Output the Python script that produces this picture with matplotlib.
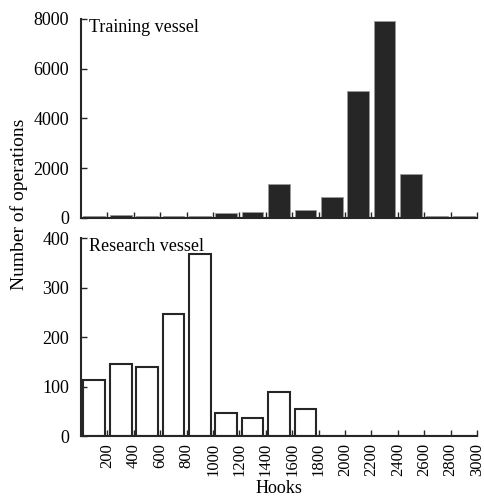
import numpy as np
import matplotlib
matplotlib.use("Agg")
import matplotlib.pyplot as plt

plt.rcParams['font.family'] = ['Liberation Serif', 'DejaVu Serif']
plt.rcParams['font.size'] = 13

# Hook-count bins (lower edges) and number of operations per bin
bin_left = [0, 200, 400, 600, 800, 1000, 1200, 1400, 1600, 1800,
            2000, 2200, 2400, 2600, 2800]
bin_width = 200
training_ops = [70, 120, 90, 70, 70, 190, 230, 1350, 320, 860,
                5090, 7930, 1780, 70, 60]
research_ops = [113, 145, 139, 246, 367, 47, 36, 89, 55, 0,
                0, 0, 0, 0, 0]
x_ticks = [200, 400, 600, 800, 1000, 1200, 1400, 1600, 1800, 2000,
           2200, 2400, 2600, 2800, 3000]

fig = plt.figure(figsize=(4.84, 4.97), dpi=100)
ax1 = fig.add_axes([0.1674, 0.5614, 0.8181, 0.4004])
ax2 = fig.add_axes([0.1674, 0.1227, 0.8181, 0.3984])

centers = np.array(bin_left) + bin_width / 2

ax1.bar(centers, training_ops, width=165, color='#262626',
        edgecolor='#9a9a9a', linewidth=0.6)
ax2.bar(centers, research_ops, width=165, color='white',
        edgecolor='#262626', linewidth=1.5)

for ax, ymax, yticks, title in [
        (ax1, 8000, [0, 2000, 4000, 6000, 8000], 'Training vessel'),
        (ax2, 400, [0, 100, 200, 300, 400], 'Research vessel')]:
    ax.set_xlim(0, 3000)
    ax.set_ylim(0, ymax)
    ax.set_xticks(x_ticks)
    ax.set_yticks(yticks)
    for s in ('top', 'right'):
        ax.spines[s].set_visible(False)
    for s in ('left', 'bottom'):
        ax.spines[s].set_linewidth(1.5)
        ax.spines[s].set_color('#262626')
    ax.tick_params(direction='in', length=4, width=1, colors='#262626',
                   labelcolor='black')
    ax.tick_params(axis='y', pad=8.5)
    ax.tick_params(axis='x', pad=5, labelsize=12)
    ax.text(0.02, 1.0, title, transform=ax.transAxes, ha='left', va='top',
            fontsize=13)

ax1.tick_params(axis='x', labelbottom=False)
ax2.set_xticklabels([str(t) for t in x_ticks], rotation=90)
ax2.set_xlabel('Hooks', labelpad=3, fontsize=13)

fig.text(0.04, 0.5895, 'Number of operations', rotation=90,
         ha='center', va='center', fontsize=14)

fig.savefig('out.png', dpi=100)
